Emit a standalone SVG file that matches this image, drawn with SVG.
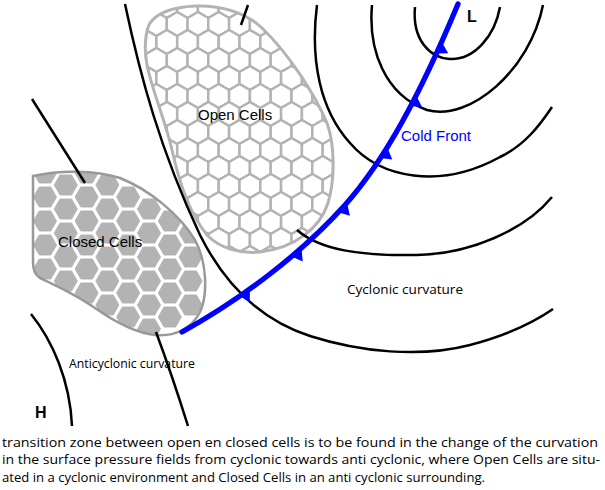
<svg xmlns="http://www.w3.org/2000/svg" width="605" height="490" viewBox="0 0 605 490">
<style>
.iso{fill:none;stroke:#000;stroke-width:2.5;stroke-linecap:butt}
.front{fill:none;stroke:#0000ff;stroke-width:5.3;stroke-linecap:round}
.tri{fill:#0000ff}
.lbl{font-family:"Liberation Sans",Arial,sans-serif;font-size:15px;fill:#000}
.hl{font-family:"Liberation Sans",Arial,sans-serif;font-size:16px;font-weight:bold;fill:#000}
.cap{font-family:"Open Sans","Noto Sans",sans-serif;font-size:13.5px;fill:#000}
.oc{fill:#fff;stroke:#b3b3b3;stroke-width:2.5;stroke-linejoin:round}
.cc{fill:#b3b3b3;stroke:#b3b3b3;stroke-width:1;stroke-linejoin:round}
</style>
<defs>
<polygon id="hxo" points="0,-12 10.39,-6 10.39,6 0,12 -10.39,6 -10.39,-6"/>
<polygon id="hxc" points="11.5,0 5.75,9.96 -5.75,9.96 -11.5,0 -5.75,-9.96 5.75,-9.96"/>
<polygon id="tri" points="-7,0 6,0 -2,11"/>
<path id="openShape" d="M150,23 C158,12 175,7 195,6 C220,5 245,12 262,28 C290,55 315,95 327,123 C335,145 335,180 328,203 C320,228 295,248 260,252 C240,254 220,248 208,236 C190,215 180,185 172,150 C165,120 152,90 147,65 C144,50 145,32 150,23 Z"/>
<path id="closedShape" d="M33,176 C60,170 95,170 120,178 C150,190 180,215 195,240 C207,262 208,295 200,312 C192,328 175,337 155,335 C135,333 115,322 95,308 C75,294 55,285 40,278 C35,275 33,270 33,262 Z"/>
<clipPath id="openClip"><use href="#openShape"/></clipPath>
<clipPath id="closedClip"><use href="#closedShape"/></clipPath>
</defs>

<g id="open-cells">
<use href="#openShape" fill="#fff"/>
<g class="oc" clip-path="url(#openClip)">
<use href="#hxo" x="146" y="6"/><use href="#hxo" x="166.8" y="6"/><use href="#hxo" x="187.6" y="6"/><use href="#hxo" x="208.3" y="6"/><use href="#hxo" x="229.1" y="6"/><use href="#hxo" x="249.9" y="6"/>
<use href="#hxo" x="156.4" y="24"/><use href="#hxo" x="177.2" y="24"/><use href="#hxo" x="197.9" y="24"/><use href="#hxo" x="218.7" y="24"/><use href="#hxo" x="239.5" y="24"/><use href="#hxo" x="260.3" y="24"/><use href="#hxo" x="281.1" y="24"/>
<use href="#hxo" x="146" y="42"/><use href="#hxo" x="166.8" y="42"/><use href="#hxo" x="187.6" y="42"/><use href="#hxo" x="208.3" y="42"/><use href="#hxo" x="229.1" y="42"/><use href="#hxo" x="249.9" y="42"/><use href="#hxo" x="270.7" y="42"/><use href="#hxo" x="291.5" y="42"/>
<use href="#hxo" x="156.4" y="60"/><use href="#hxo" x="177.2" y="60"/><use href="#hxo" x="197.9" y="60"/><use href="#hxo" x="218.7" y="60"/><use href="#hxo" x="239.5" y="60"/><use href="#hxo" x="260.3" y="60"/><use href="#hxo" x="281.1" y="60"/><use href="#hxo" x="301.9" y="60"/>
<use href="#hxo" x="146" y="78"/><use href="#hxo" x="166.8" y="78"/><use href="#hxo" x="187.6" y="78"/><use href="#hxo" x="208.3" y="78"/><use href="#hxo" x="229.1" y="78"/><use href="#hxo" x="249.9" y="78"/><use href="#hxo" x="270.7" y="78"/><use href="#hxo" x="291.5" y="78"/><use href="#hxo" x="312.3" y="78"/>
<use href="#hxo" x="156.4" y="96"/><use href="#hxo" x="177.2" y="96"/><use href="#hxo" x="197.9" y="96"/><use href="#hxo" x="218.7" y="96"/><use href="#hxo" x="239.5" y="96"/><use href="#hxo" x="260.3" y="96"/><use href="#hxo" x="281.1" y="96"/><use href="#hxo" x="301.9" y="96"/><use href="#hxo" x="322.7" y="96"/>
<use href="#hxo" x="166.8" y="114"/><use href="#hxo" x="187.6" y="114"/><use href="#hxo" x="208.3" y="114"/><use href="#hxo" x="229.1" y="114"/><use href="#hxo" x="249.9" y="114"/><use href="#hxo" x="270.7" y="114"/><use href="#hxo" x="291.5" y="114"/><use href="#hxo" x="312.3" y="114"/><use href="#hxo" x="333.1" y="114"/>
<use href="#hxo" x="156.4" y="132"/><use href="#hxo" x="177.2" y="132"/><use href="#hxo" x="197.9" y="132"/><use href="#hxo" x="218.7" y="132"/><use href="#hxo" x="239.5" y="132"/><use href="#hxo" x="260.3" y="132"/><use href="#hxo" x="281.1" y="132"/><use href="#hxo" x="301.9" y="132"/><use href="#hxo" x="322.7" y="132"/>
<use href="#hxo" x="166.8" y="150"/><use href="#hxo" x="187.6" y="150"/><use href="#hxo" x="208.3" y="150"/><use href="#hxo" x="229.1" y="150"/><use href="#hxo" x="249.9" y="150"/><use href="#hxo" x="270.7" y="150"/><use href="#hxo" x="291.5" y="150"/><use href="#hxo" x="312.3" y="150"/><use href="#hxo" x="333.1" y="150"/>
<use href="#hxo" x="177.2" y="168"/><use href="#hxo" x="197.9" y="168"/><use href="#hxo" x="218.7" y="168"/><use href="#hxo" x="239.5" y="168"/><use href="#hxo" x="260.3" y="168"/><use href="#hxo" x="281.1" y="168"/><use href="#hxo" x="301.9" y="168"/><use href="#hxo" x="322.7" y="168"/>
<use href="#hxo" x="187.6" y="186"/><use href="#hxo" x="208.3" y="186"/><use href="#hxo" x="229.1" y="186"/><use href="#hxo" x="249.9" y="186"/><use href="#hxo" x="270.7" y="186"/><use href="#hxo" x="291.5" y="186"/><use href="#hxo" x="312.3" y="186"/><use href="#hxo" x="333.1" y="186"/>
<use href="#hxo" x="177.2" y="204"/><use href="#hxo" x="197.9" y="204"/><use href="#hxo" x="218.7" y="204"/><use href="#hxo" x="239.5" y="204"/><use href="#hxo" x="260.3" y="204"/><use href="#hxo" x="281.1" y="204"/><use href="#hxo" x="301.9" y="204"/><use href="#hxo" x="322.7" y="204"/>
<use href="#hxo" x="187.6" y="222"/><use href="#hxo" x="208.3" y="222"/><use href="#hxo" x="229.1" y="222"/><use href="#hxo" x="249.9" y="222"/><use href="#hxo" x="270.7" y="222"/><use href="#hxo" x="291.5" y="222"/><use href="#hxo" x="312.3" y="222"/>
<use href="#hxo" x="197.9" y="240"/><use href="#hxo" x="218.7" y="240"/><use href="#hxo" x="239.5" y="240"/><use href="#hxo" x="260.3" y="240"/><use href="#hxo" x="281.1" y="240"/><use href="#hxo" x="301.9" y="240"/>
<use href="#hxo" x="229.1" y="258"/><use href="#hxo" x="249.9" y="258"/><use href="#hxo" x="270.7" y="258"/>
</g>
<use href="#openShape" fill="none" stroke="#b3b3b3" stroke-width="3"/>
<text class="lbl" x="198" y="119.5">Open Cells</text>
</g>

<g id="closed-cells">
<use href="#closedShape" fill="#fff"/>
<g class="cc" clip-path="url(#closedClip)">
<use href="#hxc" x="45" y="173"/><use href="#hxc" x="45" y="197"/><use href="#hxc" x="45" y="221"/><use href="#hxc" x="45" y="245"/><use href="#hxc" x="45" y="269"/>
<use href="#hxc" x="65.8" y="185"/><use href="#hxc" x="65.8" y="209"/><use href="#hxc" x="65.8" y="233"/><use href="#hxc" x="65.8" y="257"/><use href="#hxc" x="65.8" y="281"/>
<use href="#hxc" x="86.6" y="173"/><use href="#hxc" x="86.6" y="197"/><use href="#hxc" x="86.6" y="221"/><use href="#hxc" x="86.6" y="245"/><use href="#hxc" x="86.6" y="269"/><use href="#hxc" x="86.6" y="293"/>
<use href="#hxc" x="107.4" y="185"/><use href="#hxc" x="107.4" y="209"/><use href="#hxc" x="107.4" y="233"/><use href="#hxc" x="107.4" y="257"/><use href="#hxc" x="107.4" y="281"/><use href="#hxc" x="107.4" y="305"/>
<use href="#hxc" x="128.2" y="197"/><use href="#hxc" x="128.2" y="221"/><use href="#hxc" x="128.2" y="245"/><use href="#hxc" x="128.2" y="269"/><use href="#hxc" x="128.2" y="293"/><use href="#hxc" x="128.2" y="317"/>
<use href="#hxc" x="149" y="209"/><use href="#hxc" x="149" y="233"/><use href="#hxc" x="149" y="257"/><use href="#hxc" x="149" y="281"/><use href="#hxc" x="149" y="305"/><use href="#hxc" x="149" y="329"/>
<use href="#hxc" x="169.8" y="221"/><use href="#hxc" x="169.8" y="245"/><use href="#hxc" x="169.8" y="269"/><use href="#hxc" x="169.8" y="293"/><use href="#hxc" x="169.8" y="317"/>
<use href="#hxc" x="190.6" y="233"/><use href="#hxc" x="190.6" y="257"/><use href="#hxc" x="190.6" y="281"/><use href="#hxc" x="190.6" y="305"/>
</g>
<use href="#closedShape" fill="none" stroke="#999" stroke-width="2.5"/>
<text class="lbl" x="58" y="247">Closed Cells</text>
</g>

<g id="isobars">
<path class="iso" d="M125,4 C140,75 160,150 200,235 C225,285 260,320 310,336 C360,352 420,358 470,345 C500,337 530,325 553,309"/>
<path class="iso" d="M248,5 L241,25"/>
<path class="iso" d="M297,230 C320,250 360,256 417,255 C470,254 525,230 552,197"/>
<path class="iso" d="M317,5 C310,60 320,110 350,143 C380,178 440,190 500,157 C525,145 540,125 552,107"/>
<path class="iso" d="M372,5 C368,50 385,95 427,110 C470,122 530,70 543,5"/>
<path class="iso" d="M415,7 C412,40 430,58 450,59 C475,60 495,35 500,7"/>
<path class="iso" d="M32,99 L85,183"/>
<path class="iso" d="M156,332 Q172,375 188,426"/>
<path class="iso" d="M31,314 C52,340 70,380 72,426"/>
</g>

<g id="cold-front">
<path class="front" d="M182,332 C240,300 300,255 345,205 C385,160 420,95 458,4"/>
<use class="tri" href="#tri" transform="translate(439,47) rotate(-66)"/>
<use class="tri" href="#tri" transform="translate(413,100) rotate(-63)"/>
<use class="tri" href="#tri" transform="translate(384,152) rotate(-58)"/>
<use class="tri" href="#tri" transform="translate(343,207) rotate(-48)"/>
<use class="tri" href="#tri" transform="translate(297,252) rotate(-41)"/>
<use class="tri" href="#tri" transform="translate(245,292) rotate(-36)"/>
<text x="401" y="141" font-family="Liberation Sans, Arial, sans-serif" font-size="15" fill="#0000ff">Cold Front</text>
</g>

<g id="labels">
<text class="hl" x="467" y="21.5">L</text>
<text class="hl" x="35" y="418.3">H</text>
<text class="cap" x="347" y="294" font-size="14" textLength="116" lengthAdjust="spacingAndGlyphs">Cyclonic curvature</text>
<text class="cap" x="69" y="368" font-size="13" textLength="126" lengthAdjust="spacingAndGlyphs">Anticyclonic curvature</text>
</g>

<g id="caption">
<text class="cap" x="2" y="447" textLength="596" lengthAdjust="spacingAndGlyphs">transition zone between open en closed cells is to be found in the change of the curvation</text>
<text class="cap" x="2" y="464.3" textLength="598" lengthAdjust="spacingAndGlyphs">in the surface pressure fields from cyclonic towards anti cyclonic, where Open Cells are situ-</text>
<text class="cap" x="2" y="481.6" textLength="483" lengthAdjust="spacingAndGlyphs">ated in a cyclonic environment and Closed Cells in an anti cyclonic surrounding.</text>
</g>
</svg>
